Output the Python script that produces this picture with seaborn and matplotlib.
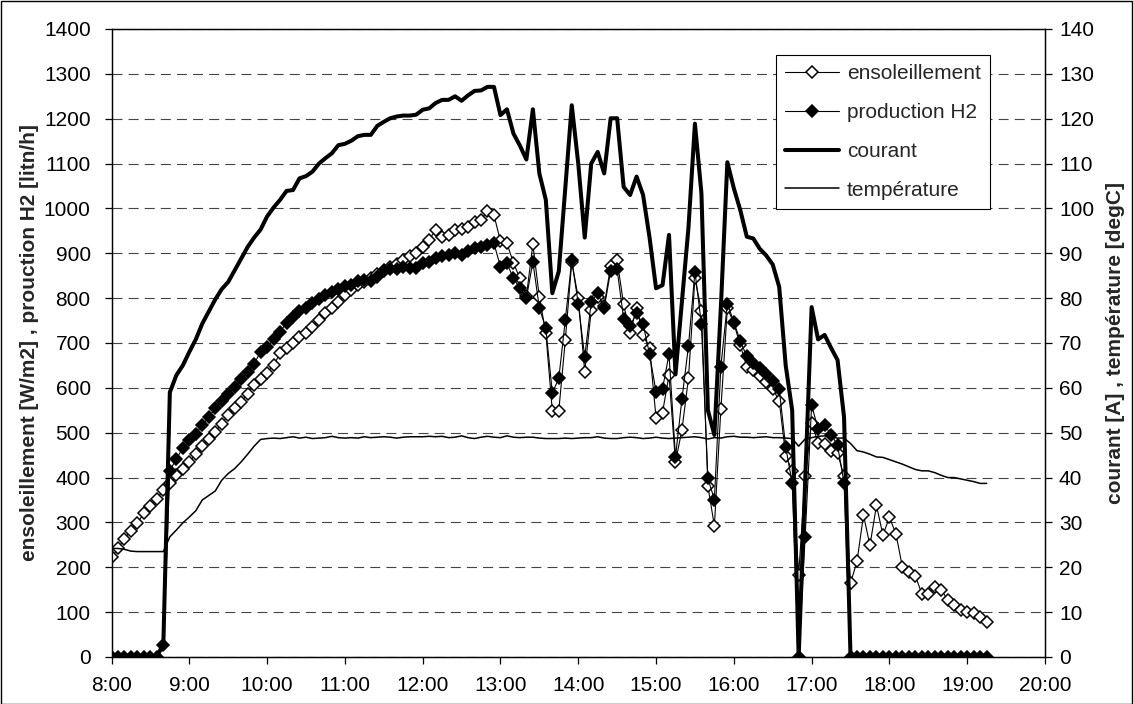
import numpy as np
import pandas as pd
import matplotlib
matplotlib.use("Agg")
import matplotlib.pyplot as plt
from matplotlib.patches import Rectangle
from matplotlib.lines import Line2D
import seaborn as sns

# ---------------- data (5-minute samples, 8:00 -> 19:15) ----------------
start_time = "08:00"
end_time = "19:15"
step = "5min"

ensoleillement = [
    222, 242, 264, 282, 299, 320, 336, 353, 372, 387, 405, 420, 435, 452, 470, 485,
    502, 520, 539, 554, 569, 587, 606, 619, 634,
    650, 677, 688, 699, 714, 723, 736, 752, 766, 777, 792, 807, 818, 829, 836, 844,
    853, 862, 870, 877, 885, 893, 900,
    915, 930, 952, 937, 941, 952, 955, 959, 970, 974, 995, 985, 927, 922, 879, 844,
    804, 920, 802, 722, 549, 549, 706, 881,
    801, 636, 773, 803, 783, 872, 884, 786, 722, 779, 718, 688, 533, 545, 628, 434,
    507, 621, 845, 771,
    381, 292, 553, 778, 744, 695, 647, 640, 626, 614, 598, 571, 449, 414, 183, 403,
    522, 477, 474, 460, 455, 403,
    165, 213, 316, 249, 338, 272, 311, 275, 201, 190, 181, 141, 141, 156, 150, 127,
    115, 105, 101, 97, 89, 79,
]

production_h2 = [
    0, 0, 0, 0, 0, 0, 0, 0, 26,
    415, 442, 465, 483, 498, 517, 535, 554, 571, 587, 602, 619, 636, 654, 680, 690,
    708, 725, 745, 757, 772, 778, 789, 797, 806, 814, 820, 828, 830, 838, 840, 838,
    848, 860, 864, 866, 870, 867, 867,
    878, 881, 889, 893, 896, 901, 896, 904, 911, 915, 919, 922, 870, 878, 844, 822,
    800, 881, 778, 733, 589, 621, 751, 884,
    788, 669, 791, 811, 778, 861, 864, 754, 739, 766, 742, 675, 591, 598, 675, 446,
    576, 693, 859, 742,
    398, 351, 647, 788, 747, 704, 670, 656, 645, 630, 615, 598, 468, 388, 0, 268,
    561, 509, 517, 496, 472, 388,
    0, 0, 0, 0, 0, 0, 0, 0, 0, 0, 0, 0, 0, 0, 0, 0, 0, 0, 0, 0, 0, 0,
]

courant = [
    0, 0, 0, 0, 0, 0, 0, 0, 3,
    59, 62.8, 65, 68, 70.8, 74.3, 77, 79.7, 82, 83.6, 86.2, 88.8, 91.4, 93.5, 95.3, 98.2,
    100.2, 101.9, 103.9, 104.1, 106.7, 107.2, 108.2, 110, 111.2, 112.3, 114.1, 114.4,
    115.1, 116.1, 116.4, 116.4, 118.4, 119.3, 120.1, 120.5, 120.7, 120.7, 120.9,
    122, 122.3, 123.5, 124.2, 124.2, 125, 124, 125.2, 126.2, 126.3, 127.1, 127.1,
    120.8, 122.1, 116.7, 114, 110.9, 122.1, 107.8, 101.9, 81.1, 86, 104.6, 123,
    110, 93.5, 110, 112.6, 107.8, 120.1, 120.1, 104.8, 103, 107.1, 103, 93.5, 82.2,
    82.9, 94.1, 63, 79.4, 95.7, 118.9, 103.4,
    55, 49.5, 78, 110.3, 104.5, 99.6, 93.7, 93.3, 91, 89.5, 87.5, 82.5, 65, 55, 0, 39,
    78, 70.8, 71.8, 68.9, 66.2, 53.5,
    0, 0, 0, 0, 0, 0, 0, 0, 0, 0, 0, 0, 0, 0, 0, 0, 0, 0, 0, 0, 0, 0,
]

temperature = [
    24.2, 24.2, 24.0, 23.6, 23.5, 23.5, 23.5, 23.5, 23.5,
    26.8, 28.3, 29.9, 31.2, 32.6, 35.0, 36.0, 37.0, 39.4, 40.9, 42.0, 43.5, 45.2, 47.0,
    48.5,
    48.7, 48.8, 48.7, 48.9, 49.1, 48.8, 49.0, 48.7, 48.8, 48.9, 49.2, 48.9, 48.8, 48.9,
    48.8, 49.1, 48.9, 49.0, 49.1, 49.0, 48.8, 49.0, 49.1, 49.1,
    49.1, 49.2, 49.1, 49.2, 48.9, 49.0, 49.3, 48.9, 48.7, 49.0, 49.2, 49.0, 48.9, 49.3,
    49.0, 48.9, 49.0, 49.0, 48.8, 48.7, 48.7, 48.7, 48.8, 48.7,
    48.8, 48.9, 48.9, 49.1, 48.8, 48.7, 48.7, 48.9, 49.0, 48.9, 48.7, 48.8, 49.0, 48.8,
    48.7, 48.8, 48.9, 49.0, 49.1, 48.9,
    48.6, 48.9, 48.8, 49.1, 49.2, 49.0, 49.0, 48.9, 49.0, 49.1, 48.9, 48.9, 48.8, 48.7,
    47.0, 48.6, 48.9, 49.2, 49.3, 49.0, 48.8, 48.8,
    47.6, 46.0, 45.7, 45.2, 44.6, 44.5, 44.0, 43.5, 43.0, 42.4, 41.8, 41.5, 41.5, 41.1,
    40.5, 40.0, 40.0, 39.7, 39.4, 39.1, 38.7, 38.7,
]

x_tick_hours = list(range(8, 21))
x_tick_labels = [f"{h}:00" for h in x_tick_hours]
left_ticks = list(range(0, 1401, 100))
right_ticks = list(range(0, 141, 10))

series_names = ["ensoleillement", "production H2", "courant", "température"]
left_label = "ensoleillement [W/m2] , prouction H2 [litn/h]"
right_label = "courant [A] , température [degC]"

# ---------------- build frame ----------------
times = pd.date_range(f"2000-01-01 {start_time}", f"2000-01-01 {end_time}", freq=step)
hours = times.hour + times.minute / 60.0
df = pd.DataFrame({
    "heure": hours,
    "ensoleillement": ensoleillement,
    "production": production_h2,
    "courant": courant,
    "temperature": temperature,
})

# ---------------- style ----------------
sns.set_style("ticks")
plt.rcParams["font.family"] = ["Liberation Sans", "DejaVu Sans"]
FS = 15

W, H = 1133, 704
fig = plt.figure(figsize=(W / 100, H / 100), dpi=100)
fig.patch.set_facecolor("white")
ax = fig.add_axes([111.5 / W, 1 - 657 / H, (1045 - 111.5) / W, (657 - 29) / H])
ax2 = ax.twinx()

mk = 5.7
sns.lineplot(data=df, x="heure", y="ensoleillement", ax=ax, color="black", lw=0.8,
             marker="D", markersize=mk, markerfacecolor="white", markeredgecolor="black",
             markeredgewidth=1.1, sort=False, estimator=None, legend=False, zorder=3)
sns.lineplot(data=df, x="heure", y="production", ax=ax, color="black", lw=0.8,
             marker="D", markersize=mk, markerfacecolor="black", markeredgecolor="black",
             markeredgewidth=1.1, sort=False, estimator=None, legend=False, zorder=4)
sns.lineplot(data=df, x="heure", y="courant", ax=ax2, color="black", lw=2.9,
             sort=False, estimator=None, legend=False, zorder=3)
sns.lineplot(data=df, x="heure", y="temperature", ax=ax2, color="black", lw=1.1,
             sort=False, estimator=None, legend=False, zorder=3)

# axes ranges / ticks
ax.set_xlim(8, 20)
ax.set_ylim(0, 1400)
ax2.set_ylim(0, 140)
ax.set_xticks(x_tick_hours)
ax.set_xticklabels(x_tick_labels)
ax.set_yticks(left_ticks)
ax2.set_yticks(right_ticks)

for a in (ax, ax2):
    for s in a.spines.values():
        s.set_color("black")
        s.set_linewidth(0.9)
    a.tick_params(direction="out", length=5, width=0.9, color="black",
                  labelsize=FS, labelcolor="black")
ax.tick_params(axis="x", pad=8.5)
ax.tick_params(axis="y", pad=10)
ax2.tick_params(axis="y", pad=5)

ax.yaxis.grid(True, color="#444444", linestyle=(0, (9, 5.5)), linewidth=0.8)
ax.xaxis.grid(False)
ax2.grid(False)
ax.set_axisbelow(True)
ax2.patch.set_visible(False)

ax.set_xlabel("")
ax.set_ylabel(left_label, fontsize=FS, fontweight="bold")
ax2.set_ylabel(right_label, fontsize=FS, fontweight="bold", rotation=90)
ax.yaxis.set_label_coords(-0.0777, 0.5)
ax2.yaxis.set_label_coords(1.0655, 0.5)

# legend
handles = [
    Line2D([], [], color="black", lw=0.8, marker="D", markersize=mk,
           markerfacecolor="white", markeredgecolor="black", markeredgewidth=1.1),
    Line2D([], [], color="black", lw=0.8, marker="D", markersize=mk,
           markerfacecolor="black", markeredgecolor="black", markeredgewidth=1.1),
    Line2D([], [], color="black", lw=2.9),
    Line2D([], [], color="black", lw=1.1),
]
leg = ax2.legend(handles, series_names, loc="upper right",
                 bbox_to_anchor=(0.941, 0.9586), frameon=True, fancybox=False,
                 framealpha=1, edgecolor="black", fontsize=FS, handlelength=2.6,
                 handletextpad=0.35, labelspacing=0.95, borderpad=0.45, numpoints=1,
                 borderaxespad=0)
leg.get_frame().set_linewidth(0.8)
leg.set_zorder(10)

# chart-area border
fig.patches.append(Rectangle((0.5 / W, 0.5 / H), 1 - 1.5 / W, 1 - 1.5 / H,
                             transform=fig.transFigure, fill=False,
                             edgecolor="black", linewidth=1.0))

fig.savefig("out.png", dpi=100)
